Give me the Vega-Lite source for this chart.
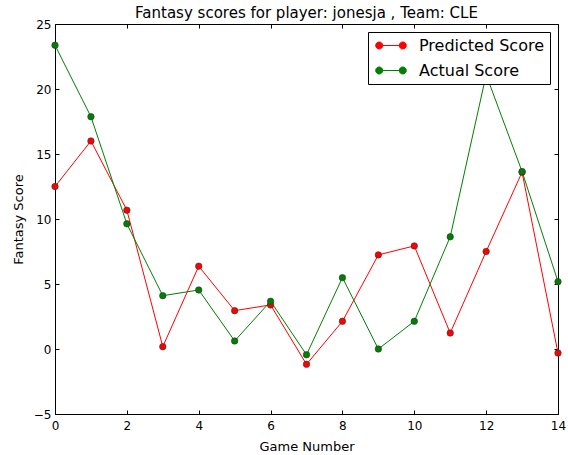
{
  "$schema": "https://vega.github.io/schema/vega-lite/v6.json",
  "width": 503,
  "height": 390,
  "autosize": {"type": "none"},
  "padding": {"left": 55, "top": 24, "right": 10, "bottom": 41},
  "background": "white",
  "title": {
    "text": "Fantasy scores for player: jonesja , Team: CLE",
    "font": "DejaVu Sans",
    "fontSize": 15,
    "fontWeight": "normal",
    "color": "black",
    "anchor": "middle",
    "offset": -3
  },
  "config": {
    "view": {"stroke": null},
    "font": "DejaVu Sans",
    "axis": {
      "domainColor": "black",
      "domainWidth": 1,
      "tickColor": "black",
      "tickWidth": 1,
      "tickSize": -4,
      "grid": false,
      "labelFlush": false,
      "labelFont": "DejaVu Sans",
      "labelFontSize": 12,
      "labelColor": "black",
      "titleFont": "DejaVu Sans",
      "titleFontSize": 13,
      "titleFontWeight": "normal",
      "titleColor": "black"
    },
    "axisTop": {"labels": false},
    "axisRight": {"labels": false}
  },
  "data": {
    "values": [
      {"game": 0, "series": "Predicted Score", "score": 12.5},
      {"game": 1, "series": "Predicted Score", "score": 16.0},
      {"game": 2, "series": "Predicted Score", "score": 10.68},
      {"game": 3, "series": "Predicted Score", "score": 0.18},
      {"game": 4, "series": "Predicted Score", "score": 6.37},
      {"game": 5, "series": "Predicted Score", "score": 2.95},
      {"game": 6, "series": "Predicted Score", "score": 3.39},
      {"game": 7, "series": "Predicted Score", "score": -1.18},
      {"game": 8, "series": "Predicted Score", "score": 2.13},
      {"game": 9, "series": "Predicted Score", "score": 7.24},
      {"game": 10, "series": "Predicted Score", "score": 7.93},
      {"game": 11, "series": "Predicted Score", "score": 1.23},
      {"game": 12, "series": "Predicted Score", "score": 7.5},
      {"game": 13, "series": "Predicted Score", "score": 13.6},
      {"game": 14, "series": "Predicted Score", "score": -0.31},
      {"game": 0, "series": "Actual Score", "score": 23.37},
      {"game": 1, "series": "Actual Score", "score": 17.87},
      {"game": 2, "series": "Actual Score", "score": 9.63},
      {"game": 3, "series": "Actual Score", "score": 4.1},
      {"game": 4, "series": "Actual Score", "score": 4.54},
      {"game": 5, "series": "Actual Score", "score": 0.62},
      {"game": 6, "series": "Actual Score", "score": 3.67},
      {"game": 7, "series": "Actual Score", "score": -0.44},
      {"game": 8, "series": "Actual Score", "score": 5.49},
      {"game": 9, "series": "Actual Score", "score": 0.0},
      {"game": 10, "series": "Actual Score", "score": 2.13},
      {"game": 11, "series": "Actual Score", "score": 8.63},
      {"game": 12, "series": "Actual Score", "score": 21.1},
      {"game": 13, "series": "Actual Score", "score": 13.65},
      {"game": 14, "series": "Actual Score", "score": 5.18}
    ]
  },
  "encoding": {
    "color": {
      "field": "series",
      "type": "nominal",
      "sort": ["Predicted Score", "Actual Score"],
      "scale": {"domain": ["Predicted Score", "Actual Score"], "range": ["#ff0000", "#008000"]},
      "legend": {
        "title": null,
        "orient": "top-right",
        "offset": 8,
        "padding": 5,
        "strokeColor": "black",
        "fillColor": "white",
        "cornerRadius": 0,
        "labelFont": "DejaVu Sans",
        "labelFontSize": 16,
        "labelColor": "black",
        "labelOffset": 29,
        "rowPadding": 8,
        "symbolType": "M-0.29,0L2.66,0M-0.73,0a0.44,0.44 0 1,0 0.88,0a0.44,0.44 0 1,0 -0.88,0M2.22,0a0.44,0.44 0 1,0 0.88,0a0.44,0.44 0 1,0 -0.88,0",
        "symbolSize": 256,
        "symbolStrokeWidth": 1
      }
    }
  },
  "layer": [
    {
      "mark": {"type": "line", "strokeWidth": 1},
      "encoding": {
        "x": {
          "field": "game",
          "type": "quantitative",
          "title": "Game Number",
          "scale": {"domain": [0, 14], "nice": false, "zero": false},
          "axis": {"values": [0, 2, 4, 6, 8, 10, 12, 14], "labelPadding": 10, "titlePadding": 9}
        },
        "y": {
          "field": "score",
          "type": "quantitative",
          "title": "Fantasy Score",
          "scale": {"domain": [-5, 25], "nice": false, "zero": false},
          "axis": {"values": [-5, 0, 5, 10, 15, 20, 25], "labelPadding": 8, "titlePadding": 8}
        }
      }
    },
    {
      "mark": {"type": "point", "filled": true, "size": 42, "opacity": 1, "stroke": "#333333", "strokeWidth": 0.6},
      "encoding": {
        "x": {"field": "game", "type": "quantitative", "axis": null},
        "y": {"field": "score", "type": "quantitative", "axis": null},
        "fill": {"field": "series", "type": "nominal", "scale": {"domain": ["Predicted Score", "Actual Score"], "range": ["#ff0000", "#008000"]}, "legend": null}
      }
    },
    {
      "mark": {"type": "rule", "opacity": 0},
      "encoding": {
        "x": {"field": "game", "type": "quantitative", "title": "", "axis": {"orient": "top", "title": "", "values": [0, 2, 4, 6, 8, 10, 12, 14]}},
        "y": {"field": "score", "type": "quantitative", "title": "", "axis": {"orient": "right", "title": "", "values": [-5, 0, 5, 10, 15, 20, 25]}},
        "color": {"value": "black"}
      }
    }
  ],
  "resolve": {"axis": {"x": "independent", "y": "independent"}}
}
